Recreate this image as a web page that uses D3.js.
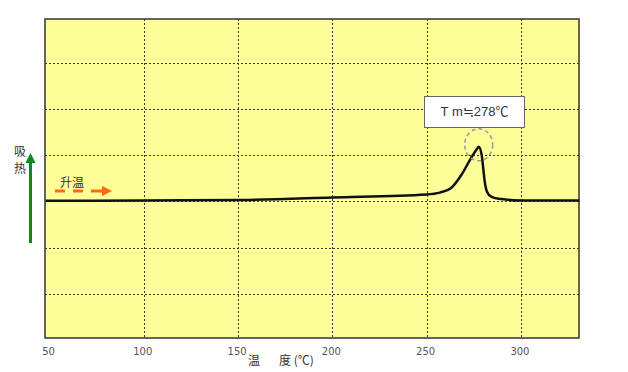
<!DOCTYPE html>
<html>
<head>
<meta charset="utf-8">
<script src="https://cdn.jsdelivr.net/npm/d3@7"></script>
<style>
  body { margin: 0; background: #fff; }
  svg { display: block; }
</style>
</head>
<body>
<div id="chart"></div>
<script>
// DSC curve values (arbitrary heat-flow units)
var tempC    = [48, 100, 150, 200, 250, 257, 263, 268.4, 273.6, 276.3, 277.6, 279.2, 280, 280.8, 282, 284.4, 289.7, 300, 331];
var heatFlow = [0.015, 0.02, 0.03, 0.085, 0.15, 0.19, 0.29, 0.57, 0.94, 1.11, 1.18, 1.0, 0.72, 0.43, 0.21, 0.10, 0.05, 0.02, 0.02];
var xTicks = [50, 100, 150, 200, 250, 300];
var xGrid = [100, 150, 200, 250, 300];
var yGrid = [-2, -1, 0, 1, 2, 3];
var peakLabel = "T m\u2252278\u2103";
var peakTemp = 277.6;

var width = 628, height = 372;
var plot = { left: 45, top: 19, right: 579, bottom: 338 };

var svg = d3.select("#chart").append("svg")
  .attr("width", width)
  .attr("height", height);

var x = d3.scaleLinear().domain([47.6, 330.8]).range([plot.left, plot.right]);
var y = d3.scaleLinear().domain([-2.95, 3.94]).range([plot.bottom, plot.top]);

// plot background
svg.append("rect")
  .attr("x", plot.left).attr("y", plot.top)
  .attr("width", plot.right - plot.left)
  .attr("height", plot.bottom - plot.top)
  .attr("fill", "#ffff99");

// grid lines
var grid = svg.append("g").attr("class", "grid")
  .attr("stroke", "#3a3a2a")
  .attr("stroke-width", 1)
  .attr("shape-rendering", "crispEdges")
  .attr("stroke-dasharray", "2,2");

grid.selectAll("line.v").data(xGrid).enter().append("line")
  .attr("class", "v")
  .attr("x1", function (d) { return Math.round(x(d)) + 0.5; })
  .attr("x2", function (d) { return Math.round(x(d)) + 0.5; })
  .attr("y1", plot.top).attr("y2", plot.bottom);

grid.selectAll("line.h").data(yGrid).enter().append("line")
  .attr("class", "h")
  .attr("y1", function (d) { return Math.round(y(d)) + 0.5; })
  .attr("y2", function (d) { return Math.round(y(d)) + 0.5; })
  .attr("x1", plot.left).attr("x2", plot.right);

// frame
svg.append("rect")
  .attr("x", plot.left).attr("y", plot.top)
  .attr("width", plot.right - plot.left)
  .attr("height", plot.bottom - plot.top)
  .attr("fill", "none")
  .attr("stroke", "#333")
  .attr("stroke-width", 1.5);

// x axis labels
var xAxis = d3.axisBottom(x).tickValues(xTicks).tickSize(0).tickPadding(0);
var gx = svg.append("g")
  .attr("transform", "translate(0," + plot.bottom + ")")
  .call(xAxis);
gx.select(".domain").remove();
gx.selectAll("text")
  .attr("y", 17)
  .attr("dy", 0)
  .attr("dx", -1.5)
  .attr("fill", "#555")
  .style("font-family", "DejaVu Sans, sans-serif")
  .style("font-size", "10px");

var cjk = "Noto Sans CJK SC, sans-serif";

svg.append("text").attr("x", 248).attr("y", 365)
  .style("font-family", cjk).style("font-size", "12px").attr("fill", "#333")
  .text("温");
svg.append("text").attr("x", 279).attr("y", 365)
  .style("font-family", cjk).style("font-size", "12px").attr("fill", "#333")
  .text("度\u00a0(℃)");

// endothermic label + arrow
svg.append("text").attr("x", 14).attr("y", 156)
  .style("font-family", cjk).style("font-size", "12px").attr("fill", "#333")
  .text("吸");
svg.append("text").attr("x", 14).attr("y", 173)
  .style("font-family", cjk).style("font-size", "12px").attr("fill", "#333")
  .text("热");

var defs = svg.append("defs");
defs.append("marker")
  .attr("id", "greenHead")
  .attr("viewBox", "0 0 10 10")
  .attr("refX", 1).attr("refY", 5)
  .attr("markerWidth", 3.4).attr("markerHeight", 3.4)
  .attr("orient", "auto")
  .append("path").attr("d", "M0,0 L10,5 L0,10 z").attr("fill", "#0a8a1e");
defs.append("marker")
  .attr("id", "orangeHead")
  .attr("viewBox", "0 0 10 10")
  .attr("refX", 1).attr("refY", 5)
  .attr("markerWidth", 3.4).attr("markerHeight", 3.4)
  .attr("orient", "auto")
  .append("path").attr("d", "M0,0 L10,5 L0,10 z").attr("fill", "#ff6a13");

svg.append("line")
  .attr("x1", 30.5).attr("y1", 243)
  .attr("x2", 30.5).attr("y2", 162)
  .attr("stroke", "#0a8a1e")
  .attr("stroke-width", 3)
  .attr("marker-end", "url(#greenHead)");

// heating label + arrow
svg.append("text").attr("x", 60).attr("y", 187)
  .style("font-family", cjk).style("font-size", "12px").attr("fill", "#333")
  .text("升温");
svg.append("line")
  .attr("x1", 55).attr("y1", 191)
  .attr("x2", 93).attr("y2", 191)
  .attr("stroke", "#ff6a13")
  .attr("stroke-width", 3)
  .attr("stroke-dasharray", "10,8");
svg.append("line")
  .attr("x1", 93).attr("y1", 191)
  .attr("x2", 103).attr("y2", 191)
  .attr("stroke", "#ff6a13")
  .attr("stroke-width", 3)
  .attr("marker-end", "url(#orangeHead)");

// DSC curve
var line = d3.line()
  .x(function (d, i) { return x(tempC[i]); })
  .y(function (d) { return y(d); })
  .curve(d3.curveMonotoneX);

svg.append("path")
  .datum(heatFlow)
  .attr("d", line)
  .attr("fill", "none")
  .attr("stroke", "#111")
  .attr("stroke-width", 2.5);

// peak marker
var peakVal = d3.max(heatFlow);
svg.append("ellipse")
  .attr("cx", x(peakTemp))
  .attr("cy", y(peakVal) - 2)
  .attr("rx", 14).attr("ry", 16)
  .attr("fill", "none")
  .attr("stroke", "#999")
  .attr("stroke-width", 1.5)
  .attr("stroke-dasharray", "4,3");

svg.append("rect")
  .attr("x", 424.5).attr("y", 96.5)
  .attr("width", 100).attr("height", 31)
  .attr("fill", "#fff")
  .attr("stroke", "#666")
  .attr("stroke-width", 1);
svg.append("text")
  .attr("x", 474.5).attr("y", 116)
  .attr("text-anchor", "middle")
  .style("font-family", "Liberation Sans, Noto Sans CJK SC, sans-serif")
  .style("font-size", "13px")
  .attr("fill", "#333")
  .text(peakLabel);
</script>
</body>
</html>
